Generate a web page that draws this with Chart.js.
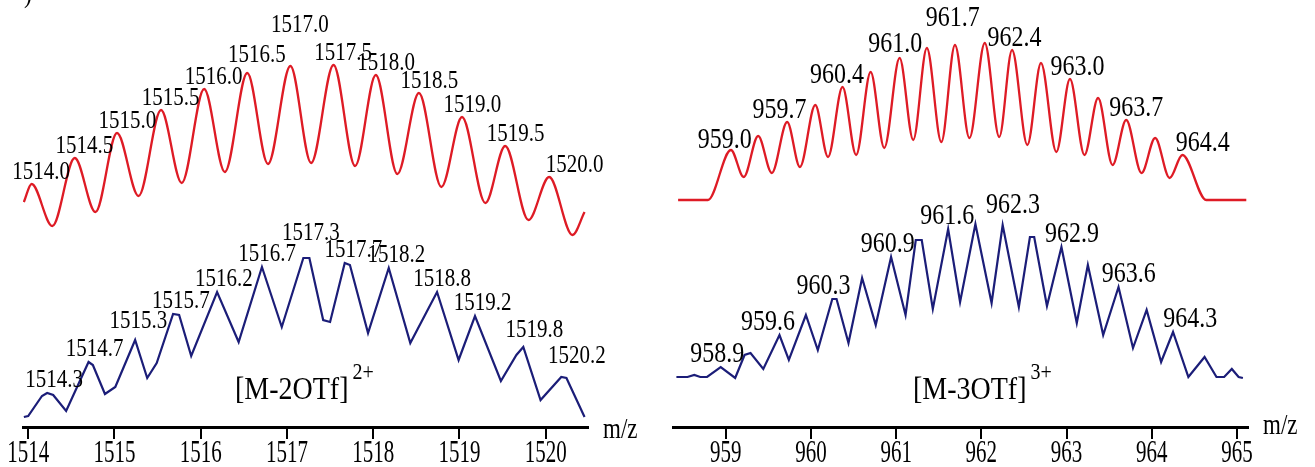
<!DOCTYPE html>
<html>
<head>
<meta charset="utf-8">
<script src="https://cdn.jsdelivr.net/npm/chart.js@4.4.1/dist/chart.umd.min.js"></script>
<style>
  body { margin: 0; background: #fff; width: 1315px; height: 467px; overflow: hidden; position: relative; }
  canvas { position: absolute; top: 0; }
  #chart-left { left: 0; }
  #chart-right { left: 660px; }
</style>
</head>
<body>
<canvas id="chart-left" width="660" height="467"></canvas>
<canvas id="chart-right" width="655" height="467"></canvas>
<script>
// ---- data: [M-2OTf]2+ (left panel) ----
const leftTicks = [1514, 1515, 1516, 1517, 1518, 1519, 1520];

// calculated pattern (red), read as peak / valley points
const leftRedMz = [1513.95, 1514.04, 1514.28, 1514.54, 1514.78, 1515.03, 1515.28, 1515.54, 1515.78,
  1516.04, 1516.28, 1516.54, 1516.78, 1517.04, 1517.28, 1517.54, 1517.79, 1518.03, 1518.28,
  1518.53, 1518.79, 1519.03, 1519.30, 1519.53, 1519.80, 1520.04, 1520.31, 1520.45];
const leftRedInt = [225, 243, 201, 269, 215, 294, 231, 317, 244,
  338, 255, 354, 263, 361, 264, 362, 261, 352, 253,
  334, 240, 310, 224, 281, 207, 250, 192, 215];

// measured spectrum (blue)
const leftBlueMz = [1513.95, 1514.00, 1514.16, 1514.22, 1514.29, 1514.44, 1514.70, 1514.75, 1514.89,
  1515.01, 1515.24, 1515.38, 1515.49, 1515.68, 1515.75, 1515.89, 1516.19, 1516.44, 1516.71,
  1516.94, 1517.19, 1517.26, 1517.42, 1517.50, 1517.67, 1517.73, 1517.94, 1518.18, 1518.43,
  1518.74, 1518.99, 1519.18, 1519.48, 1519.66, 1519.74, 1519.94, 1520.18, 1520.24, 1520.45];
const leftBlueInt = [10, 11, 31, 34, 32, 16, 65, 62, 33,
  40, 87, 49, 64, 113, 112, 71, 135, 85, 160,
  100, 169, 169, 107, 105, 164, 162, 94, 159, 84,
  135, 67, 111, 46, 72, 80, 27, 50, 49, 10];

const leftRedLabels = ['1514.0', '1514.5', '1515.0', '1515.5', '1516.0', '1516.5', '1517.0',
  '1517.5', '1518.0', '1518.5', '1519.0', '1519.5', '1520.0'];
const leftBlueLabels = ['1514.3', '1514.7', '1515.3', '1515.7', '1516.2', '1516.7', '1517.3',
  '1517.7', '1518.2', '1518.8', '1519.2', '1519.8', '1520.2'];

// ---- data: [M-3OTf]3+ (right panel) ----
const rightTicks = [959, 960, 961, 962, 963, 964, 965];

const rightRedMz = [958.44, 958.79, 959.06, 959.21, 959.38, 959.54, 959.72, 959.87, 960.05, 960.20,
  960.37, 960.53, 960.70, 960.86, 961.04, 961.20, 961.36, 961.53, 961.69, 961.86,
  962.04, 962.21, 962.36, 962.54, 962.70, 962.88, 963.04, 963.21, 963.37, 963.54,
  963.70, 963.88, 964.04, 964.21, 964.36, 964.64, 965.11];
const rightRedInt = [227, 227, 277, 250, 291, 254, 305, 260, 322, 270,
  340, 272, 355, 279, 369, 287, 379, 285, 382, 289,
  384, 290, 377, 282, 364, 275, 348, 272, 329, 262,
  307, 254, 289, 249, 272, 227, 227];

const rightBlueMz = [958.42, 958.55, 958.63, 958.70, 958.78, 958.94, 959.11, 959.22, 959.29, 959.44,
  959.63, 959.74, 959.94, 960.08, 960.25, 960.30, 960.44, 960.60, 960.76, 960.94,
  961.11, 961.23, 961.30, 961.43, 961.61, 961.75, 961.93, 962.12, 962.25, 962.44,
  962.57, 962.62, 962.77, 962.94, 963.12, 963.25, 963.43, 963.61, 963.78, 963.94,
  964.11, 964.25, 964.43, 964.62, 964.76, 964.85, 964.94, 965.02, 965.07];
const rightBlueInt = [50, 50, 52, 50, 50, 60, 49, 72, 74, 58,
  92, 67, 112, 77, 128, 128, 84, 149, 102, 170,
  112, 187, 187, 118, 198, 125, 203, 124, 202, 120,
  190, 190, 121, 180, 104, 162, 92, 140, 79, 117,
  65, 95, 50, 70, 50, 50, 58, 50, 49];

const rightRedLabels = ['959.0', '959.7', '960.4', '961.0', '961.7', '962.4', '963.0', '963.7', '964.4'];
const rightBlueLabels = ['958.9', '959.6', '960.3', '960.9', '961.6', '962.3', '962.9', '963.6', '964.3'];

const RED = '#de1b25';
const BLUE = '#1b1d78';
const INK = '#000';
const SERIF = '"Liberation Serif", "Times New Roman", serif';

// text is condensed in the original figure, so draw it stretched vertically
function stretchText(ctx, text, x, y, size, sy, align, baseline) {
    ctx.save();
    ctx.translate(x, y);
    ctx.scale(1, sy);
    ctx.font = size + 'px ' + SERIF;
    ctx.fillStyle = INK;
    ctx.textAlign = align;
    ctx.textBaseline = baseline;
    ctx.fillText(text, 0, 0);
    const w = ctx.measureText(text).width;
    ctx.restore();
    return w;
}

function zip(xs, ys) {
    return xs.map((x, i) => ({ x: x, y: ys[i] }));
}

// peak labels + axis text, placed from the scales
function makeTextPlugin(panel) {
    return {
        id: 'panelText',
        afterDatasetsDraw(chart) {
            const ctx = chart.ctx;
            const xs = chart.scales.x;
            const ys = chart.scales.y;

            panel.groups.forEach(g => {
                g.labels.forEach(text => {
                    const v = parseFloat(text);
                    let top = 0;
                    g.mz.forEach((m, i) => {
                        if (Math.abs(m - v) <= g.window && g.int[i] > top) top = g.int[i];
                    });
                    const n = g.nudge[text] || [0, 0];
                    const x = xs.getPixelForValue(v) + g.dx + n[0];
                    const y = ys.getPixelForValue(top) - g.gap + n[1];
                    stretchText(ctx, text, x, y, g.size, 1.2, 'center', 'alphabetic');
                });
            });

            xs.ticks.forEach(t => {
                stretchText(ctx, String(t.value), xs.getPixelForValue(t.value), 453, 21, 1.55, 'center', 'middle');
            });

            stretchText(ctx, 'm/z', panel.unitX, panel.unitY, 23, 1.3, 'left', 'middle');
            const w = stretchText(ctx, panel.ion, panel.ionX, 391, 28, 1.15, 'left', 'middle');
            stretchText(ctx, panel.charge, panel.ionX + w + 4, 373, 20, 1.2, 'left', 'middle');
            if (panel.corner) stretchText(ctx, panel.corner, 24, 2, 24, 1.2, 'left', 'alphabetic');
        }
    };
}

function buildChart(id, panel) {
    const ctx = document.getElementById(id).getContext('2d');
    return new Chart(ctx, {
        type: 'line',
        data: {
            datasets: [
                {
                    data: zip(panel.redMz, panel.redInt),
                    borderColor: RED,
                    borderWidth: 2.3,
                    pointRadius: 0,
                    cubicInterpolationMode: 'monotone',
                    fill: false
                },
                {
                    data: zip(panel.blueMz, panel.blueInt),
                    borderColor: BLUE,
                    borderWidth: 2.2,
                    pointRadius: 0,
                    tension: 0,
                    fill: false
                }
            ]
        },
        options: {
            responsive: false,
            animation: false,
            devicePixelRatio: 1,
            layout: { padding: { left: panel.padLeft, right: panel.padRight, top: 0, bottom: 28 } },
            plugins: { legend: { display: false }, tooltip: { enabled: false } },
            scales: {
                x: {
                    type: 'linear',
                    min: panel.min,
                    max: panel.max,
                    afterBuildTicks: scale => { scale.ticks = panel.ticks.map(v => ({ value: v })); },
                    ticks: { display: false },
                    grid: { drawOnChartArea: false, drawTicks: true, tickLength: 12, lineWidth: 2, color: INK },
                    border: { display: true, color: INK, width: 3 }
                },
                y: { display: false, min: 0, max: 427 }
            }
        },
        plugins: [makeTextPlugin(panel)]
    });
}

document.addEventListener('DOMContentLoaded', () => {
    buildChart('chart-left', {
        min: 1513.94, max: 1520.49, ticks: leftTicks,
        padLeft: 23, padRight: 72,
        redMz: leftRedMz, redInt: leftRedInt, blueMz: leftBlueMz, blueInt: leftBlueInt,
        groups: [
            { labels: leftRedLabels, mz: leftRedMz, int: leftRedInt, window: 0.15, dx: 13, gap: 5, size: 21,
              nudge: { '1516.5': [0, -6], '1517.0': [0, -29], '1520.0': [16, 0] } },
            { labels: leftBlueLabels, mz: leftBlueMz, int: leftBlueInt, window: 0.15, dx: 6, gap: 6, size: 21,
              nudge: { '1514.3': [-6, 0], '1515.3': [-8, -6], '1517.3': [-8, -12], '1518.8': [-6, 0],
                       '1519.8': [0, -4], '1520.2': [8, -8] } }
        ],
        unitX: 603, unitY: 430,
        ion: '[M-2OTf]', ionX: 235, charge: '2+',
        corner: ')'
    });

    buildChart('chart-right', {
        min: 958.38, max: 965.13, ticks: rightTicks,
        padLeft: 13, padRight: 67,
        redMz: rightRedMz, redInt: rightRedInt, blueMz: rightBlueMz, blueInt: rightBlueInt,
        groups: [
            { labels: rightRedLabels, mz: rightRedMz, int: rightRedInt, window: 0.12, dx: -1, gap: 4, size: 24,
              nudge: { '959.0': [0, 2], '959.7': [-5, 0], '960.4': [-7, 0], '961.0': [0, -2], '961.7': [-2, -15],
                       '963.0': [12, 0], '963.7': [11, 0], '964.4': [18, 0] } },
            { labels: rightBlueLabels, mz: rightBlueMz, int: rightBlueInt, window: 0.12, dx: 0, gap: 5, size: 24,
              nudge: { '959.6': [-9, 0], '960.3': [-13, 0], '962.3': [6, -7], '962.9': [14, 0],
                       '963.6': [11, 0], '964.3': [13, 0] } }
        ],
        unitX: 603, unitY: 426,
        ion: '[M-3OTf]', ionX: 253, charge: '3+'
    });
});
</script>
</body>
</html>
